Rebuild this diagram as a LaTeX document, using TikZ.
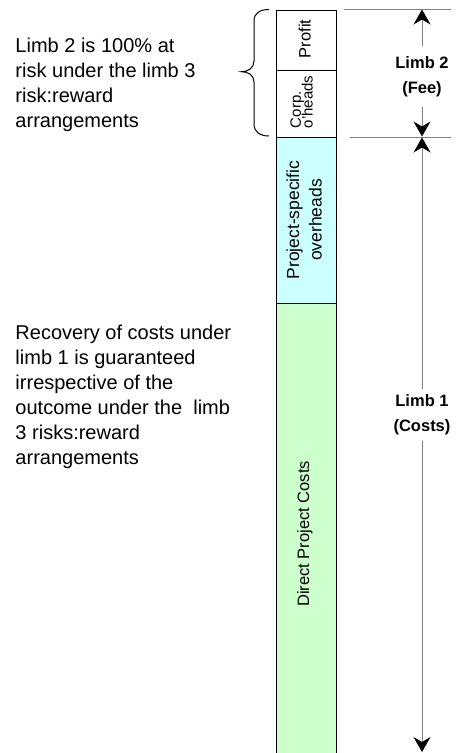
\documentclass[tikz,border=0pt]{standalone}
\usepackage{fontspec}
\setmainfont{Liberation Sans}
\usetikzlibrary{arrows.meta}
\definecolor{guidegray}{RGB}{128,128,128}
\definecolor{overheadfill}{RGB}{204,255,255}
\definecolor{directfill}{RGB}{204,255,204}
% allow baselines closer than the glyph heights
\newcommand{\tightlines}{\lineskiplimit=-50pt\relax}

\begin{document}
\begin{tikzpicture}[x=1pt,y=-1pt,
  segment/.style={draw=black, line width=1pt, rectangle, minimum width=60pt,
    inner sep=0pt, anchor=north west},
  barlabel/.style={rotate=90, inner sep=0pt},
  note/.style={align=left, anchor=north west, inner sep=0pt,
    font=\fontsize{20}{25}\selectfont},
  limblabel/.style={align=center, inner xsep=2pt,
    font=\fontsize{16.5}{25}\selectfont\bfseries},
  guide/.style={draw=guidegray, line width=1pt},
  dimarrow/.style={guide, -{Stealth[length=15pt, width=17pt, inset=5pt, color=black]}},
  brace/.style={draw=black, line width=1pt}
]
\clip (0,0) rectangle (458,753);

% stacked bar: fee (profit + corporate overheads) on top of the cost segments
\node[segment, minimum height=60.5pt] (profit) at (276,9.5) {};
\node[segment, minimum height=67pt] (corp) at (276,70) {};
\node[segment, fill=overheadfill, minimum height=166pt] (pso) at (276,137) {};
\node[segment, fill=directfill, minimum height=460pt] (direct) at (276,303) {};

% segment labels, reading upwards
\node[barlabel, anchor=base, font=\fontsize{16.5}{20}\selectfont] (profittext) at (310.5,39) {Profit};
\node[barlabel, anchor=base west, font=\fontsize{15}{18}\selectfont] (corptext) at (300.8,128.3) {Corp.};
\node[barlabel, anchor=base west, font=\fontsize{15}{18}\selectfont] (oheadtext) at (312.5,128.3) {o'heads};
\node[barlabel, align=center,
  font=\fontsize{17.5}{22.5}\selectfont\tightlines] (psotext) at (304.2,220) {Project-specific\\overheads};
\node[barlabel, anchor=base, font=\fontsize{16.5}{20}\selectfont] (directtext) at (309,534) {Direct Project Costs};

% explanatory notes
\node[note] (feenote) at (15.3,37.9) {Limb 2 is 100\% at\\risk under the limb 3\\risk:reward\\arrangements};
\node[note] (costnote) at (15.3,324.4) {Recovery of costs under\\limb 1 is guaranteed\\irrespective of the\\outcome under the\ \ limb\\3 risks:reward\\arrangements};

% brace grouping the fee segments
\draw[brace] (269,9.5) .. controls (260,9.5) and (254,13) .. (254,21)
  -- (254,61) .. controls (254,68) and (248,71.7) .. (241.5,71.7)
  .. controls (248,71.7) and (254,75) .. (254,82)
  -- (254,124) .. controls (254,132) and (260,136) .. (269,136);

% dimension lines
\coordinate (rule1l) at (344,9.5);
\coordinate (rule1r) at (451,9.5);
\coordinate (rule2l) at (350,137);
\coordinate (rule2r) at (451,137);
\coordinate (feetop) at (422,9.5);
\coordinate (feebot) at (422,136.5);
\coordinate (costtop) at (422,137.5);
\coordinate (costbot) at (422,752);
\draw[guide] (rule1l) -- (rule1r);
\draw[guide] (rule2l) -- (rule2r);

\node[limblabel, inner ysep=10pt] (fee) at (422,76.7) {Limb 2\\(Fee)};
\node[limblabel, inner ysep=6pt] (costs) at (422,415) {Limb 1\\(Costs)};
\draw[dimarrow] (fee) -- (feetop);
\draw[dimarrow] (fee) -- (feebot);
\draw[dimarrow] (costs) -- (costtop);
\draw[dimarrow] (costs) -- (costbot);
\end{tikzpicture}
\end{document}
